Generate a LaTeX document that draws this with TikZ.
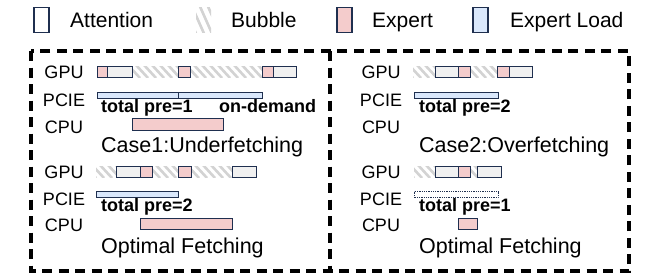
\documentclass[tikz,border=0pt]{standalone}
\usepackage{fontspec}
\setmainfont{Liberation Sans}
\definecolor{myNavy}{HTML}{1F2F4F}
\definecolor{attGray}{HTML}{F0F0F0}
\definecolor{expPink}{HTML}{F4CCCC}
\definecolor{loadBlue}{HTML}{DAE8FC}
\definecolor{hatchGray}{HTML}{D3D3D3}
\newcommand\hatchseg[4]{%
  \begin{scope}
    \clip (#1,#3) rectangle (#2,#4);
    \foreach \k in {0,8,...,104} {\draw[hatchGray,line width=2.6pt] ({#1-12+\k},{#3-1}) -- ({#1+\k},{#4+1});}
  \end{scope}}
\begin{document}
\begin{tikzpicture}[x=1pt,y=-1pt,
  att/.style={draw=myNavy,fill=attGray,line width=1pt},
  expb/.style={draw=myNavy,fill=expPink,line width=1pt},
  loadb/.style={draw=myNavy,fill=loadBlue,line width=1pt},
  lbl/.style={font=\fontsize{18}{18}\selectfont,anchor=base,inner sep=0pt},
  captxt/.style={font=\fontsize{21.5}{22}\selectfont,anchor=base west,inner sep=0pt},
  notetxt/.style={font=\bfseries\fontsize{18}{18}\selectfont,anchor=base west,inner sep=0pt},
  legtxt/.style={font=\fontsize{21}{21}\selectfont,anchor=base west,inner sep=0pt},
  frame/.style={line width=3.3pt,dash pattern=on 10pt off 6.5pt}]
\useasboundingbox (0,0) rectangle (656,274);
% legend
\draw[draw=myNavy,fill=white,line width=1.3pt] (34,7.5) rectangle (49,32.5);
\node[legtxt] (lAtt) at (70,27.5) {Attention};
\hatchseg{196}{211}{7.5}{32.5}
\node[legtxt] (lBub) at (231,27.5) {Bubble};
\draw[expb,line width=1.3pt] (337,7.5) rectangle (352,32.5);
\node[legtxt] (lExp) at (372,27.5) {Expert};
\draw[loadb,line width=1.3pt] (473,7.5) rectangle (488,32.5);
\node[legtxt] (lLoad) at (510,27.5) {Expert Load};
% frame
\draw[frame] (31,51) rectangle (629,271);
\draw[frame] (330,51) -- (330,271);
% ---------- panel top-left
\node[lbl] (g1) at (64,78) {GPU};
\node[lbl] (p1) at (64,106) {PCIE};
\node[lbl] (c1) at (64,133) {CPU};
\hatchseg{132}{178}{66}{77}
\hatchseg{190}{262}{66}{77}
\draw[expb] (97,66) rectangle (107,77);
\draw[att] (107,66) rectangle (132,77);
\draw[expb] (178,66) rectangle (190,77);
\draw[expb] (262,66) rectangle (273,77);
\draw[att] (273,66) rectangle (296,77);
\draw[loadb] (97,92) rectangle (178,98);
\draw[loadb] (178,92) rectangle (262,98);
\node[notetxt] (n1) at (101,112.5) {total pre=1};
\node[notetxt] (n1b) at (219,112.5) {on-demand};
\draw[expb] (132,118) rectangle (223,130);
\node[captxt] (t1) at (101,152.5) {Case1:Underfetching};
% ---------- panel top-right
\node[lbl] (g2) at (381,78) {GPU};
\node[lbl] (p2) at (381,106) {PCIE};
\node[lbl] (c2) at (381,133) {CPU};
\hatchseg{413}{435}{66}{77}
\hatchseg{470}{497}{66}{77}
\draw[att] (435,66) rectangle (458,77);
\draw[expb] (458,66) rectangle (470,77);
\draw[expb] (497,66) rectangle (509,77);
\draw[att] (509,66) rectangle (532,77);
\draw[loadb] (414,92) rectangle (498,98);
\node[notetxt] (n2) at (419,112.5) {total pre=2};
\node[captxt] (t2) at (419,152.5) {Case2:Overfetching};
% ---------- panel bottom-left
\node[lbl] (g3) at (64,178) {GPU};
\node[lbl] (p3) at (64,205) {PCIE};
\node[lbl] (c3) at (64,231.5) {CPU};
\hatchseg{96}{116}{166}{177}
\hatchseg{152}{178}{166}{177}
\hatchseg{191}{232}{166}{177}
\draw[att] (116,166) rectangle (140,177);
\draw[expb] (140,166) rectangle (152,177);
\draw[expb] (178,166) rectangle (191,177);
\draw[att] (232,166) rectangle (256,177);
\draw[loadb] (96,191.5) rectangle (178,197.5);
\node[notetxt] (n3) at (101,211.5) {total pre=2};
\draw[expb] (140,218) rectangle (232,229);
\node[captxt] (t3) at (101,253.5) {Optimal Fetching};
% ---------- panel bottom-right
\node[lbl] (g4) at (381,178) {GPU};
\node[lbl] (p4) at (381,205) {PCIE};
\node[lbl] (c4) at (381,231.5) {CPU};
\hatchseg{414}{435}{166}{177}
\hatchseg{470}{477}{166}{177}
\draw[att] (435,166) rectangle (458,177);
\draw[expb] (458,166) rectangle (470,177);
\draw[att] (477,166) rectangle (501,177);
\draw[draw=myNavy,fill=white,line width=0.8pt,densely dotted] (414,191.5) rectangle (498,197.5);
\node[notetxt] (n4) at (419,211.5) {total pre=1};
\draw[expb] (458,218) rectangle (477,229);
\node[captxt] (t4) at (419,253.5) {Optimal Fetching};
\end{tikzpicture}
\end{document}
